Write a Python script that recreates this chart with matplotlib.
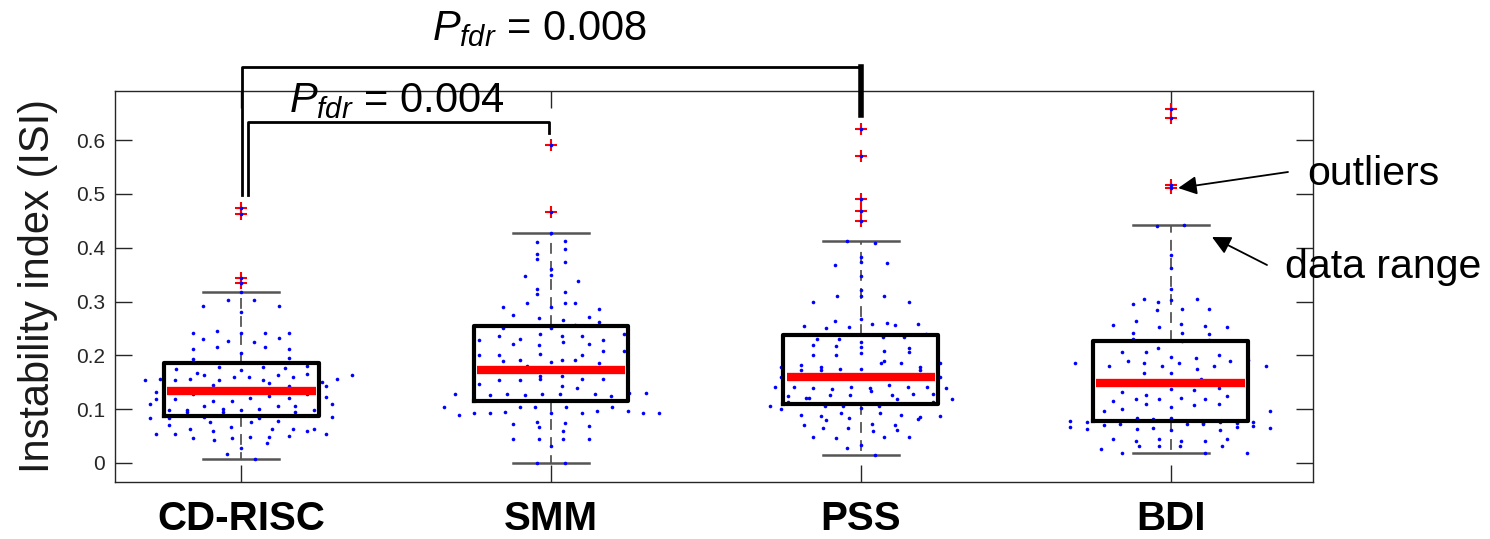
import numpy as np
import matplotlib
matplotlib.use("Agg")
import matplotlib.pyplot as plt

plt.rcParams["font.family"] = ["Liberation Sans", "DejaVu Sans"]
plt.rcParams["mathtext.fontset"] = "custom"
plt.rcParams["mathtext.rm"] = "Liberation Sans"
plt.rcParams["mathtext.it"] = "Liberation Sans:italic"

groups = ["CD-RISC", "SMM", "PSS", "BDI"]

# box stats
q1 = [0.088, 0.115, 0.109, 0.078]
med = [0.134, 0.172, 0.159, 0.149]
q3 = [0.185, 0.255, 0.238, 0.227]
whislo = [0.008, 0.000, 0.014, 0.018]
whishi = [0.318, 0.427, 0.413, 0.443]
fliers = [
    [0.473, 0.462, 0.344, 0.334],
    [0.591, 0.466],
    [0.620, 0.571, 0.491, 0.468, 0.449],
    [0.658, 0.641, 0.517, 0.511],
]

# individual subjects: (jitter, value)
cdrisc_pts = [
    (0, 0.317), (-0.122, 0.292), (-0.041, 0.302), (0.040, 0.302), (0.121, 0.291),
    (0, 0.280), (-0.154, 0.242), (-0.077, 0.245), (0, 0.242), (0.077, 0.241),
    (0.155, 0.241), (-0.122, 0.231), (-0.041, 0.227), (0.040, 0.224), (0.121, 0.232),
    (-0.154, 0.212), (-0.077, 0.215), (0.077, 0.216), (0.155, 0.211), (0, 0.205),
    (-0.154, 0.193), (0.155, 0.196), (-0.211, 0.175), (-0.070, 0.178), (0, 0.173),
    (0.070, 0.178), (0.140, 0.177), (0.212, 0.181), (-0.141, 0.168), (-0.119, 0.164),
    (-0.024, 0.160), (0.024, 0.160), (0.119, 0.163), (0.167, 0.160), (0.214, 0.165),
    (-0.310, 0.154), (-0.261, 0.156), (-0.214, 0.154), (-0.166, 0.156), (-0.070, 0.154),
    (0.071, 0.154), (0.091, 0.149), (0.261, 0.151), (0.310, 0.157), (0.357, 0.164),
    (-0.091, 0.145), (0.153, 0.143), (0.275, 0.144), (-0.274, 0.131), (-0.154, 0.128),
    (0.212, 0.128), (-0.274, 0.118), (-0.214, 0.118), (-0.091, 0.116), (-0.030, 0.115),
    (0.030, 0.120), (0.091, 0.124), (0.153, 0.120), (0.275, 0.122), (-0.293, 0.109),
    (-0.120, 0.106), (0.120, 0.106), (0.175, 0.105), (0.293, 0.109), (-0.234, 0.099),
    (-0.176, 0.098), (-0.059, 0.101), (0, 0.099), (0.058, 0.100), (0.234, 0.098),
    (-0.176, 0.095), (-0.059, 0.094), (0.175, 0.095), (-0.293, 0.084), (-0.234, 0.084),
    (-0.120, 0.086), (0.058, 0.084), (0.293, 0.086), (-0.101, 0.076), (0.033, 0.076),
    (0.120, 0.078), (-0.234, 0.071), (-0.034, 0.067), (-0.166, 0.064), (-0.091, 0.060),
    (0.101, 0.063), (0.168, 0.064), (0.214, 0.060), (0.234, 0.063), (-0.274, 0.053),
    (-0.214, 0.053), (-0.154, 0.046), (-0.086, 0.042), (-0.030, 0.047), (0.030, 0.049),
    (0.091, 0.049), (0.153, 0.051), (0.275, 0.053), (0.085, 0.038), (0, 0.028),
    (-0.045, 0.016), (0.045, 0.007),
    (0, 0.473), (0, 0.462), (0, 0.344), (0, 0.334),
]
smm_pts = [
    (0, 0.427), (-0.045, 0.411), (0.044, 0.413), (0.044, 0.397), (-0.045, 0.388),
    (-0.045, 0.379), (0.044, 0.373), (0, 0.360), (0, 0.349), (-0.085, 0.348),
    (0.086, 0.339), (-0.045, 0.323), (-0.045, 0.314), (0.044, 0.317), (-0.077, 0.297),
    (0.044, 0.298), (0.077, 0.297), (-0.154, 0.290), (0, 0.290), (0.155, 0.286),
    (-0.122, 0.275), (-0.040, 0.269), (0.040, 0.266), (0.121, 0.271), (0.155, 0.262),
    (0.077, 0.257), (-0.154, 0.250), (0, 0.250), (0.234, 0.240), (-0.168, 0.236),
    (-0.034, 0.240), (0.034, 0.236), (0.100, 0.236), (-0.234, 0.228), (-0.100, 0.230),
    (0.040, 0.224), (0.168, 0.228), (-0.122, 0.221), (-0.040, 0.219), (0.121, 0.221),
    (0.168, 0.208), (0.234, 0.208), (-0.234, 0.201), (-0.168, 0.201), (-0.034, 0.202),
    (0.100, 0.201), (-0.154, 0.190), (-0.100, 0.192), (0, 0.188), (0.034, 0.192),
    (0.077, 0.191), (0.155, 0.186), (-0.077, 0.181), (-0.037, 0.162), (0.037, 0.162),
    (-0.034, 0.156), (-0.168, 0.155), (-0.100, 0.155), (0.100, 0.156), (0.168, 0.156),
    (-0.234, 0.146), (0.034, 0.144), (0.084, 0.139), (-0.309, 0.129), (-0.197, 0.126),
    (-0.141, 0.128), (-0.084, 0.126), (-0.028, 0.128), (0.028, 0.128), (0.141, 0.128),
    (0.195, 0.125), (0.253, 0.130), (0.308, 0.130), (-0.346, 0.104), (-0.100, 0.104),
    (-0.051, 0.104), (0.049, 0.104), (0.197, 0.104), (-0.297, 0.090), (-0.248, 0.093),
    (-0.198, 0.093), (-0.149, 0.095), (0, 0.093), (0.099, 0.093), (0.149, 0.097),
    (0.248, 0.097), (0.297, 0.093), (0.347, 0.093), (-0.045, 0.076), (0.044, 0.074),
    (-0.122, 0.072), (0.121, 0.068), (-0.040, 0.067), (0.040, 0.059), (-0.122, 0.044),
    (-0.040, 0.044), (0.040, 0.044), (0.121, 0.044), (0, 0.031), (-0.045, 0.000),
    (0.044, 0.000),
    (0, 0.591), (0, 0.466),
]
pss_pts = [
    (-0.045, 0.413), (0.044, 0.409), (0, 0.383), (0, 0.373), (-0.085, 0.368),
    (0.084, 0.371), (0, 0.347), (0, 0.321), (0, 0.311), (-0.077, 0.311),
    (0.076, 0.311), (-0.155, 0.299), (0.155, 0.299), (0, 0.268), (-0.085, 0.263),
    (0.036, 0.259), (0.084, 0.261), (0.110, 0.256), (0.184, 0.258), (-0.185, 0.254),
    (-0.112, 0.250), (-0.038, 0.252), (0.070, 0.234), (0.139, 0.234), (0.210, 0.240),
    (-0.142, 0.231), (-0.072, 0.231), (-0.155, 0.219), (-0.079, 0.218), (0, 0.225),
    (0, 0.216), (0.154, 0.213), (-0.155, 0.200), (-0.079, 0.201), (0, 0.205),
    (0.076, 0.209), (0.154, 0.206), (0.064, 0.186), (0.076, 0.189), (0.128, 0.186),
    (-0.193, 0.182), (-0.258, 0.178), (-0.129, 0.178), (0.190, 0.179), (0.254, 0.185),
    (-0.193, 0.172), (-0.129, 0.172), (-0.066, 0.174), (0, 0.174), (0.190, 0.172),
    (-0.258, 0.159), (0.254, 0.159), (-0.276, 0.142), (-0.215, 0.141), (-0.154, 0.139),
    (-0.093, 0.138), (-0.031, 0.141), (0.030, 0.140), (0.092, 0.145), (0.153, 0.141),
    (0.214, 0.141), (0.275, 0.139), (0.034, 0.134), (-0.234, 0.125), (-0.169, 0.121),
    (-0.101, 0.127), (-0.034, 0.127), (0.099, 0.127), (0.167, 0.128), (0.234, 0.128),
    (0.117, 0.118), (0.293, 0.118), (-0.176, 0.120), (-0.234, 0.113), (0.234, 0.114),
    (-0.293, 0.106), (-0.117, 0.105), (-0.059, 0.105), (0.058, 0.105), (-0.258, 0.100),
    (0, 0.102), (0.256, 0.087), (-0.192, 0.090), (-0.129, 0.087), (-0.065, 0.092),
    (0.063, 0.092), (0.128, 0.090), (0.190, 0.085), (-0.112, 0.080), (-0.038, 0.083),
    (0.184, 0.081), (-0.185, 0.071), (0.036, 0.072), (0.110, 0.071), (-0.122, 0.065),
    (-0.041, 0.065), (0.039, 0.060), (0.117, 0.061), (-0.155, 0.048), (-0.079, 0.046),
    (0.076, 0.048), (0.154, 0.048), (0, 0.034), (-0.045, 0.027), (0.044, 0.014),
    (0, 0.620), (0, 0.571), (0, 0.491), (0, 0.468), (0, 0.449),
]
bdi_pts = [
    (-0.046, 0.441), (0.044, 0.443), (0, 0.387), (0, 0.363), (0, 0.324),
    (-0.087, 0.304), (0.084, 0.304), (0, 0.302), (-0.123, 0.296), (-0.041, 0.300),
    (0.036, 0.286), (-0.046, 0.285), (0.122, 0.287), (-0.186, 0.257), (-0.112, 0.263),
    (0.033, 0.258), (-0.039, 0.252), (0.109, 0.255), (0.183, 0.253), (-0.123, 0.241),
    (0.036, 0.242), (0.122, 0.239), (-0.123, 0.230), (0.036, 0.227), (0.122, 0.228),
    (-0.156, 0.206), (-0.079, 0.207), (-0.041, 0.213), (0.083, 0.195), (0.157, 0.200),
    (-0.310, 0.186), (-0.137, 0.190), (-0.087, 0.186), (0, 0.197), (0.026, 0.186),
    (0.192, 0.189), (0.248, 0.191), (-0.200, 0.180), (-0.029, 0.180), (0.139, 0.180),
    (0.308, 0.181), (0.085, 0.175), (-0.087, 0.167), (0, 0.167), (0.099, 0.157),
    (-0.156, 0.131), (0, 0.137), (0.075, 0.136), (0.157, 0.139), (-0.079, 0.126),
    (0.033, 0.120), (0.183, 0.124), (-0.186, 0.116), (-0.112, 0.119), (-0.039, 0.119),
    (0.109, 0.119), (-0.079, 0.109), (0.075, 0.107), (0.157, 0.109), (0, 0.104),
    (-0.158, 0.100), (-0.217, 0.096), (0.320, 0.097), (0, 0.083), (-0.110, 0.083),
    (-0.056, 0.082), (-0.325, 0.078), (-0.271, 0.076), (0.105, 0.074), (0.159, 0.076),
    (0.213, 0.075), (0.267, 0.076), (-0.217, 0.071), (-0.164, 0.072), (-0.056, 0.065),
    (0.052, 0.072), (0.105, 0.072), (-0.325, 0.067), (-0.271, 0.064), (-0.110, 0.064),
    (0, 0.062), (0.159, 0.062), (0.213, 0.067), (0.267, 0.069), (0.320, 0.065),
    (-0.186, 0.045), (-0.112, 0.041), (-0.039, 0.045), (0.033, 0.041), (0.109, 0.040),
    (0.183, 0.045), (-0.104, 0.032), (-0.037, 0.032), (0.031, 0.032), (0.164, 0.032),
    (-0.225, 0.026), (-0.158, 0.019), (0.112, 0.019), (0.246, 0.019),
    (0, 0.658), (0, 0.641), (0, 0.517), (0, 0.511),
]
points = [cdrisc_pts, smm_pts, pss_pts, bdi_pts]

# significance brackets: (left group, right group, label)
comparisons = [(1, 3, "0.008"), (1, 2, "0.004")]

fig = plt.figure(figsize=(14.9, 5.39), dpi=100)
ax = fig.add_axes([0.0772, 0.1058, 0.8040, 0.7254])

positions = np.arange(1, len(groups) + 1)

for pos, pts in zip(positions, points):
    pts = np.array(pts)
    ax.plot(pos + pts[:, 0], pts[:, 1], "o", color="blue", ms=2.6, mew=0, zorder=4)

stats = []
for i, g in enumerate(groups):
    stats.append(dict(label=g, med=med[i], q1=q1[i], q3=q3[i],
                      whislo=whislo[i], whishi=whishi[i], fliers=fliers[i]))

bp = ax.bxp(stats, positions=positions, widths=0.5, capwidths=0.245,
            boxprops=dict(color="black", lw=3.0),
            medianprops=dict(color="red", lw=6, solid_capstyle="butt"),
            whiskerprops=dict(color="#555555", lw=1.3, dashes=(6, 4)),
            capprops=dict(color="#555555", lw=1.8),
            flierprops=dict(marker="+", markeredgecolor="red", ms=9, mew=1.5))
for b in bp["boxes"]:
    b.set_zorder(6)
for m in bp["medians"]:
    m.set_zorder(5)
    x0, x1 = m.get_xdata()
    m.set_xdata([x0 + 0.01, x1 - 0.01])
for f in bp["fliers"]:
    f.set_zorder(3)
for w in bp["whiskers"] + bp["caps"]:
    w.set_zorder(2)

ax.set_xlim(0.593, 4.459)
ax.set_ylim(-0.0353, 0.6914)
ax.set_yticks([0, 0.1, 0.2, 0.3, 0.4, 0.5, 0.6])
ax.set_yticklabels(["0", "0.1", "0.2", "0.3", "0.4", "0.5", "0.6"])
ax.set_xticks(positions)
ax.set_xticklabels(groups, fontsize=29, fontweight="bold")
ax.tick_params(axis="both", direction="in", length=12, width=1, color="#262626",
               top=True, right=True)
ax.tick_params(axis="y", labelsize=15, labelcolor="#262626", pad=7)
ax.tick_params(axis="x", pad=13)
for s in ax.spines.values():
    s.set_color("#262626")
    s.set_linewidth(1)

ax.set_ylabel("Instability index (ISI)", fontsize=30, color="#1a1a1a", labelpad=13)

# brackets above the boxes
bracket = dict(color="black", lw=2, clip_on=False, zorder=7)
ax.plot([1.003, 1.003, 3.0, 3.0], [0.498, 0.736, 0.736, 0.647], **bracket)
ax.plot([3.0, 3.0], [0.736, 0.647], color="black", lw=4, clip_on=False, zorder=7)
ax.plot([1.022, 1.022, 1.995, 1.995], [0.498, 0.634, 0.634, 0.613], **bracket)
ax.text(1.962, 0.786, r"$P_{fdr}$ = " + comparisons[0][2], fontsize=30,
        ha="center", va="baseline", clip_on=False)
ax.text(1.503, 0.652, r"$P_{fdr}$ = " + comparisons[1][2], fontsize=30,
        ha="center", va="baseline", clip_on=False)

# explanatory arrows
arrow = dict(arrowstyle="-|>", color="black", lw=1.3, mutation_scale=28,
             shrinkA=0, shrinkB=0)
ax.annotate("", xy=(4.024, 0.511), xycoords="data",
            xytext=(1288 / 1490, 1 - 172 / 539), textcoords="figure fraction",
            arrowprops=arrow)
ax.annotate("", xy=(4.133, 0.420), xycoords="data",
            xytext=(1267 / 1490, 1 - 265 / 539), textcoords="figure fraction",
            arrowprops=arrow)
fig.text(1307 / 1490, 1 - 185 / 539, "outliers", fontsize=29.5, va="baseline")
fig.text(1285 / 1490, 1 - 278 / 539, "data range", fontsize=29.5, va="baseline")

fig.savefig("out.png", dpi=100)
